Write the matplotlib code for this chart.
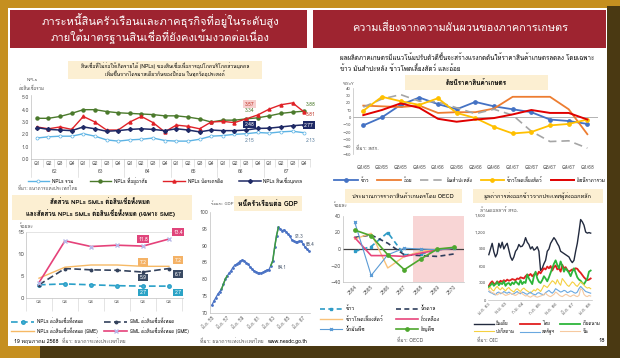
import logging
import warnings
import matplotlib
matplotlib.use("Agg")
import matplotlib.pyplot as plt
import matplotlib.font_manager as fm
from matplotlib.ft2font import FT2Font
from matplotlib.patches import Rectangle
from matplotlib.ticker import FuncFormatter

warnings.filterwarnings("ignore")
logging.getLogger("matplotlib.font_manager").setLevel(logging.ERROR)

# ---------------- data ----------------
# NPLs ratio by purpose (Q1/62 - Q4/67)
quarters = ["Q1", "Q2", "Q3", "Q4"] * 6
years_be = ["62", "63", "64", "65", "66", "67"]
npl_total = [1.7, 1.8, 1.85, 1.85, 2.05, 1.85, 1.55, 1.45, 1.55, 1.6, 1.7, 1.5,
             1.45, 1.45, 1.6, 1.85, 1.9, 2.0, 2.05, 2.15, 2.1, 2.2, 2.25, 2.13]
npl_housing = [3.3, 3.3, 3.45, 3.7, 4.0, 4.0, 3.85, 3.75, 3.7, 3.65, 3.6, 3.5,
               3.5, 3.4, 3.25, 3.0, 3.15, 3.15, 3.25, 3.34, 3.5, 3.7, 3.8, 3.88]
npl_card = [2.6, 2.45, 2.6, 2.4, 3.45, 3.0, 2.35, 2.35, 3.0, 3.45, 2.95, 2.2,
            2.75, 2.65, 2.45, 3.0, 3.05, 2.95, 3.25, 3.57, 4.05, 4.4, 4.55, 3.81]
npl_personal = [2.55, 2.4, 2.35, 2.3, 2.6, 2.45, 2.25, 2.3, 2.4, 2.45, 2.4, 2.3,
                2.45, 2.35, 2.2, 2.35, 2.3, 2.3, 2.35, 2.48, 2.5, 2.6, 2.7, 2.77]

# NPL / SML shares incl. SME
sme_cats = ["Q4", "Q4", "Q4", "Q4", "Q4", "Q4"]
npl_all = [3.0, 3.2, 3.0, 2.8, 2.7, 2.7]
sml_all = [3.0, 6.7, 6.4, 6.3, 5.9, 6.7]
npl_sme = [4.5, 7.0, 7.5, 7.5, 7.2, 7.2]
sml_sme = [3.5, 13.0, 11.7, 12.0, 11.8, 13.4]

# household debt to GDP, quarterly 2555Q1 - 2567Q4
hh_ticks = ["มี.ค. 55", "มี.ค. 57", "มี.ค. 59", "มี.ค. 61", "มี.ค. 63", "มี.ค. 65", "มี.ค. 67"]
hh_debt = [72.3, 73.5, 74.5, 75.5, 76.3, 77.0, 78.5, 80.0, 81.0, 81.8, 82.5, 83.5,
           84.2, 84.5, 85.0, 85.3, 85.8, 85.5, 85.0, 84.5, 83.8, 83.2, 82.6, 82.3,
           82.0, 81.8, 81.9, 82.1, 82.5, 82.8, 82.9, 84.1, 85.5, 89.5, 93.0, 95.5,
           95.0, 94.5, 94.7, 94.2, 93.5, 92.8, 91.8, 91.4, 91.0, 91.2, 91.3, 91.3,
           90.5, 89.6, 88.9, 88.4]

# agricultural price index %YoY
agri_q = ["Q1/65", "Q2/65", "Q3/65", "Q4/65", "Q1/66", "Q2/66", "Q3/66", "Q4/66",
          "Q1/67", "Q2/67", "Q3/67", "Q4/67", "Q1/68"]
rice = [-11, 0, 17, 27, 18, 11, 21, 15, 11, 7, -3, -5, -9]
sugarcane = [16, 15, 14, 16, 6, 7, 7, 12, 28, 28, 28, 11, -23]
cassava = [14, 25, 31, 22, 21, 13, 5, 11, 3, -19, -33, -32, -42]
maize = [9, 28, 22, 17, 26, 6, -1, -13, -22, -20, -11, -9, -3]
overall = [3, 10, 19, 13, -2, -6, -3, -1, 4, 10, 6, 6, -3]

# OECD price projections
oecd_years = [2564, 2565, 2566, 2567, 2568, 2569, 2570]
o_rice = [-3, 3, 20, -7, -6, -1, 1]
o_sugar = [14, 17, 7, -7, -8, -9, -6]
o_maize = [12, 19, -23, -9, -3, 0, 1]
o_soy = [14, -8, -8, -9, -5, -1, 1]
o_oil = [33, -32, -7, 1, 0, -1, 1]
o_cereal = [23, 16, -7, -25, -12, 0, 2]

# rice export value by exporter, monthly ม.ค. 63 - ก.พ. 68 (million USD)
rx_ticks = ["ม.ค. 63", "พ.ย. 63", "ก.ย. 64", "ก.ค. 65", "พ.ค. 66", "มี.ค. 67", "ม.ค. 68"]
ex_india = [800, 900, 1000, 850, 760, 820, 1000, 920, 1020, 900, 960, 1000,
            880, 760, 700, 760, 860, 900, 980, 940, 950, 1000, 1100, 1020,
            980, 900, 940, 880, 900, 940, 860, 520, 560, 640, 700, 860,
            900, 1000, 1050, 1100, 1060, 1000, 950, 860, 840, 820, 800, 780,
            760, 700, 660, 700, 860, 1000, 1200, 1420, 1380, 1320, 1200, 1180,
            1190, 1180]
ex_thai = [250, 300, 330, 290, 280, 330, 300, 340, 320, 350, 330, 360,
           340, 350, 370, 360, 350, 380, 370, 400, 390, 380, 420, 450,
           430, 460, 420, 450, 480, 440, 500, 470, 520, 560, 540, 590,
           560, 600, 520, 580, 610, 540, 560, 500, 620, 560, 580, 530,
           500, 520, 540, 530, 560, 550, 510, 480, 440, 400, 370, 350,
           360, 380]
ex_viet = [230, 260, 300, 250, 280, 320, 260, 300, 280, 330, 250, 290,
           300, 260, 310, 280, 330, 300, 270, 350, 280, 320, 300, 450,
           380, 330, 280, 420, 500, 380, 320, 300, 350, 420, 380, 330,
           400, 480, 560, 640, 700, 620, 560, 680, 600, 500, 560, 520,
           480, 420, 500, 560, 480, 400, 360, 340, 300, 280, 330, 380,
           500, 520]
ex_pak = [200, 220, 180, 160, 210, 240, 200, 180, 220, 190, 160, 200,
          220, 180, 160, 140, 180, 200, 170, 150, 190, 210, 180, 160,
          140, 120, 150, 180, 160, 200, 180, 150, 200, 260, 240, 220,
          260, 300, 340, 320, 280, 360, 300, 260, 380, 340, 300, 260,
          240, 280, 320, 300, 260, 240, 280, 320, 300, 260, 230, 210,
          220, 200]
ex_us = [150, 130, 120, 100, 90, 130, 140, 110, 120, 150, 130, 120,
         140, 120, 100, 110, 130, 150, 120, 110, 140, 130, 110, 100,
         120, 140, 110, 100, 90, 120, 130, 110, 100, 90, 130, 150,
         170, 140, 120, 150, 200, 180, 160, 140, 150, 170, 160, 130,
         140, 160, 150, 130, 120, 140, 200, 240, 210, 180, 150, 140,
         130, 120]
ex_china = [180, 150, 130, 120, 100, 90, 110, 130, 120, 100, 80, 90,
            100, 120, 110, 90, 80, 100, 120, 140, 110, 90, 70, 80,
            60, 50, 70, 80, 60, 50, 60, 70, 80, 100, 120, 90,
            70, 60, 80, 100, 140, 120, 90, 70, 60, 80, 100, 90,
            70, 60, 80, 90, 70, 60, 80, 200, 180, 100, 70, 60,
            80, 70]

# ---------------- fonts ----------------
thai_font = None
for f in fm.fontManager.ttflist:
    try:
        if 0x0E01 in FT2Font(f.fname).get_charmap():
            thai_font = f.name
            break
    except Exception:
        pass
plt.rcParams["font.family"] = ([thai_font] if thai_font else []) + ["DejaVu Sans"]
plt.rcParams["axes.linewidth"] = 0.5

W, H = 620, 358
fig = plt.figure(figsize=(6.2, 3.58), dpi=100)

bg = fig.add_axes([0, 0, 1, 1])
bg.set_xlim(0, W)
bg.set_ylim(H, 0)
bg.axis("off")


def px_axes(x0, y0, x1, y1):
    a = fig.add_axes([x0 / W, 1 - y1 / H, (x1 - x0) / W, (y1 - y0) / H])
    a.set_facecolor("none")
    return a


def rect(x0, y0, x1, y1, color, **kw):
    bg.add_patch(Rectangle((x0, y0), x1 - x0, y1 - y0, color=color, lw=0, **kw))


YEL = "#fcefd2"
SRC = "#555555"

# frame + slide
rect(0, 0, W, H, "#c58f20")
rect(607, 6, W, H, "#4a3912")
rect(40, 346, W, H, "#4a3912")
rect(8, 8, 607, 346, "white")
rect(10, 10, 307, 48, "#9e2430")
rect(313, 10, 606, 48, "#9e2430")
bg.text(160, 21, "ภาระหนี้สินครัวเรือนและภาคธุรกิจที่อยู่ในระดับสูง", color="white",
        fontsize=8, ha="center", va="center")
bg.text(160, 37, "ภายใต้มาตรฐานสินเชื่อที่ยังคงเข้มงวดต่อเนื่อง", color="white",
        fontsize=8, ha="center", va="center")
bg.text(460, 28, "ความเสี่ยงจากความผันผวนของภาคการเกษตร", color="white",
        fontsize=7.8, ha="center", va="center")

# yellow title boxes
rect(68, 61, 262, 79, YEL)
bg.text(165, 65.5, "สินเชื่อที่ไม่ก่อให้เกิดรายได้ (NPLs) ของสินเชื่อเพื่อการอุปโภคบริโภคส่วนบุคคล",
        fontsize=3.6, ha="center", va="center")
bg.text(165, 74, "เพิ่มขึ้นจากไตรมาสเดียวกันของปีก่อน ในทุกวัตถุประสงค์",
        fontsize=3.6, ha="center", va="center")
rect(12, 195, 192, 220, YEL)
bg.text(100, 201.5, "สัดส่วน NPLs SMLs ต่อสินเชื่อทั้งหมด", fontsize=4.4,
        ha="center", va="center", weight="bold")
bg.text(100, 213, "และสัดส่วน NPLs SMLs ต่อสินเชื่อทั้งหมด (เฉพาะ SME)", fontsize=4.4,
        ha="center", va="center", weight="bold")
rect(234, 196, 302, 211, YEL)
bg.text(268, 203.5, "หนี้ครัวเรือนต่อ GDP", fontsize=4.8, ha="center", va="center", weight="bold")
rect(405, 75, 548, 90, YEL)
bg.text(476, 82.5, "ดัชนีราคาสินค้าเกษตร", fontsize=4.6, ha="center", va="center", weight="bold")
rect(345, 189, 462, 203, YEL)
bg.text(403, 196, "ประมาณการราคาสินค้าเกษตรโดย OECD", fontsize=4, ha="center", va="center")
rect(473, 189, 603, 203, YEL)
bg.text(538, 196, "มูลค่าการส่งออกข้าวจากประเทศผู้ส่งออกหลัก", fontsize=4, ha="center", va="center")

bg.text(340, 57, "ผลผลิตภาคเกษตรมีแนวโน้มปรับตัวดีขึ้นจะสร้างแรงกดดันให้ราคาสินค้าเกษตรลดลง โดยเฉพาะ",
        fontsize=4.5, va="center")
bg.text(340, 68, "ข้าว มันสำปะหลัง ข้าวโพดเลี้ยงสัตว์ และอ้อย", fontsize=4.5, va="center")

# small axis captions and sources
bg.text(32, 80, "NPLs", fontsize=3.2, ha="center", va="center", color=SRC)
bg.text(32, 88, "ต่อสินเชื่อรวม", fontsize=3.2, ha="center", va="center", color=SRC)
bg.text(18, 188, "ที่มา: ธนาคารแห่งประเทศไทย", fontsize=3.3, va="center", color=SRC)
bg.text(20, 226, "ร้อยละ", fontsize=3.5, va="center", color=SRC)
bg.text(211, 204, "ร้อยละ GDP", fontsize=3, va="center", color=SRC)
bg.text(343, 84, "%YoY", fontsize=3, va="center", color=SRC)
bg.text(356, 148, "ที่มา: สศก.", fontsize=3.5, va="center", color=SRC)
bg.text(334, 205, "ร้อยละ", fontsize=3.5, va="center", color=SRC)
bg.text(480, 210, "ล้านดอลลาร์ สรอ.", fontsize=3.5, va="center", color=SRC)
bg.text(397, 340, "ที่มา: OECD", fontsize=3.5, va="center", color=SRC)
bg.text(477, 340, "ที่มา: OIC", fontsize=3.5, va="center", color=SRC)
bg.text(14, 341, "19 พฤษภาคม 2568", fontsize=3.8, va="center")
bg.text(62, 341, "ที่มา: ธนาคารแห่งประเทศไทย", fontsize=3.5, va="center", color=SRC)
bg.text(200, 341, "ที่มา: ธนาคารแห่งประเทศไทย", fontsize=3.5, va="center", color=SRC)
bg.text(268, 341, "www.nesdc.go.th", fontsize=3.8, va="center")
bg.text(598, 341, "18", fontsize=4.2, va="center")


def style(a, left=True, bottom=True):
    for s in ["top", "right"]:
        a.spines[s].set_visible(False)
    a.spines["left"].set_visible(left)
    a.spines["bottom"].set_visible(bottom)
    a.spines["left"].set_color("#bfbfbf")
    a.spines["bottom"].set_color("#bfbfbf")
    a.tick_params(length=0, labelsize=3.8, colors="#595959", pad=1.5)


def boxlabel(a, x, y, s, fc, tc="white", fs=3.6):
    a.text(x, y, s, fontsize=fs, color=tc, ha="center", va="center", clip_on=False,
           bbox=dict(boxstyle="square,pad=0.25", fc=fc, ec="none"))


# ---------------- chart 1: NPLs ----------------
ax1 = px_axes(31, 95, 310, 159)
x1 = list(range(len(quarters)))
ax1.plot(x1, npl_total, color="#5cb3e4", lw=1.0, marker="o", ms=2.2, mfc="white", mew=0.5,
         label="NPLs รวม")
ax1.plot(x1, npl_housing, color="#4b7a2c", lw=1.0, marker="o", ms=2.2, label="NPLs ที่อยู่อาศัย")
ax1.plot(x1, npl_card, color="#e02228", lw=1.0, marker="^", ms=2.2, label="NPLs บัตรเครดิต")
ax1.plot(x1, npl_personal, color="#1f2a66", lw=1.1, marker="D", ms=2.0, label="NPLs สินเชื่อบุคคล")
ax1.set_xlim(-0.5, 23.14)
ax1.set_ylim(0, 5.19)
style(ax1)
ax1.set_yticks([0, 1, 2, 3, 4, 5])
ax1.set_yticklabels(["0.0", "1.0", "2.0", "3.0", "4.0", "5.0"])
ax1.set_xticks(x1)
ax1.set_xticklabels(quarters, fontsize=3.4)
ax1.set_xticks([i + 0.5 for i in range(-1, 24)], minor=True)
ax1.tick_params(axis="x", which="minor", length=6, color="#d0d0d0", width=0.4)
for k, yr in enumerate(years_be):
    ax1.text(4 * k + 1.5, -1.05, yr, fontsize=3.6, ha="center", va="center", color="#595959")
    ax1.plot([4 * k - 0.5] * 2, [0, -1.45], color="#d0d0d0", lw=0.4, clip_on=False)
ax1.text(18.3, 4.46, "3.57", fontsize=3.6, color="#c0392b", ha="center", va="center",
         bbox=dict(boxstyle="square,pad=0.25", fc="#f7cfcf", ec="none"))
ax1.text(18.3, 3.97, "3.34", fontsize=3.6, color="#4b7a2c", ha="center", va="center")
boxlabel(ax1, 18.3, 2.78, "2.48", "#1f2a66")
ax1.text(18.3, 1.52, "2.15", fontsize=3.6, color="#5a7f9e", ha="center", va="center")
ax1.text(23.6, 4.4, "3.88", fontsize=3.6, color="#4b7a2c", ha="center", va="center", clip_on=False)
ax1.text(23.6, 3.57, "3.81", fontsize=3.6, color="#c0392b", ha="center", va="center", clip_on=False)
boxlabel(ax1, 23.4, 2.75, "2.77", "#1f2a66")
ax1.text(23.6, 1.52, "2.13", fontsize=3.6, color="#5a7f9e", ha="center", va="center", clip_on=False)
ax1.legend(ncol=4, loc="center", bbox_to_anchor=(165, 181), bbox_transform=bg.transData,
           frameon=False, fontsize=3.4, handlelength=4.5, columnspacing=3.5, handletextpad=0.6)

# ---------------- chart 2: NPL / SML ----------------
ax2 = px_axes(26, 232, 183, 298)
x2 = list(range(len(sme_cats)))
h_na, = ax2.plot(x2, npl_all, color="#2aa0c8", lw=1.2, ls=(0, (4, 2)), marker="o", ms=2.5,
                 mfc="#4ab0d3", label="NPLs ต่อสินเชื่อทั้งหมด")
h_sa, = ax2.plot(x2, sml_all, color="#34425c", lw=1.2, ls=(0, (4, 2)), marker="o", ms=1.8,
                 label="SML ต่อสินเชื่อทั้งหมด")
h_ns, = ax2.plot(x2, npl_sme, color="#f6b965", lw=1.0, label="NPLs ต่อสินเชื่อทั้งหมด (SME)")
h_ss, = ax2.plot(x2, sml_sme, color="#e5427a", lw=1.2, marker="x", ms=2.5, mec="#b8b8e8",
                 label="SML ต่อสินเชื่อทั้งหมด (SME)")
ax2.set_xlim(-0.5, 5.54)
ax2.set_ylim(0, 15)
style(ax2)
ax2.spines["top"].set_visible(True)
ax2.spines["top"].set_color("#d9d9d9")
ax2.set_yticks([0, 5, 10, 15])
ax2.tick_params(axis="y", labelsize=4.5)
ax2.set_xticks(x2)
ax2.set_xticklabels(sme_cats, fontsize=3)
ax2.set_xticks([i + 0.5 for i in range(-1, 6)], minor=True)
ax2.tick_params(axis="x", which="minor", length=9, color="#d0d0d0", width=0.4)
boxlabel(ax2, 4, 13.4, "11.8", "#e0457b")
boxlabel(ax2, 5.35, 15.0, "13.4", "#e0457b")
boxlabel(ax2, 4, 8.15, "7.2", "#f4b266")
boxlabel(ax2, 5.35, 8.6, "7.2", "#f4b266")
boxlabel(ax2, 4, 4.7, "5.9", "#3a4a63")
boxlabel(ax2, 5.35, 5.4, "6.7", "#3a4a63")
boxlabel(ax2, 4, 1.3, "2.7", "#2ba3c6")
boxlabel(ax2, 5.35, 1.3, "2.7", "#2ba3c6")
ax2.legend(handles=[h_na, h_ns, h_sa, h_ss], ncol=2, loc="center", bbox_to_anchor=(100, 326),
           bbox_transform=bg.transData, frameon=False, fontsize=3.3, handlelength=5,
           columnspacing=1.5, handletextpad=0.6, labelspacing=0.6)

# ---------------- chart 3: household debt ----------------
ax3 = px_axes(210, 212, 310, 313)
x3 = list(range(len(hh_debt)))
ax3.plot(x3, hh_debt, color="#4a72c4", lw=0.9, marker="o", ms=1.0)
ax3.plot(x3[5:9], hh_debt[5:9], color="#3e9b3e", lw=1.1)
ax3.plot(x3[31:36], hh_debt[31:36], color="#3e9b3e", lw=1.1)
ax3.set_xlim(-1, 51.6)
ax3.set_ylim(70, 100)
style(ax3)
ax3.set_yticks([70, 75, 80, 85, 90, 95, 100])
ax3.set_xticks([0, 8, 16, 24, 32, 40, 48])
ax3.set_xticklabels(hh_ticks, rotation=45, ha="right", fontsize=3.3, rotation_mode="anchor")
ax3.text(34.5, 83.6, "84.1", fontsize=3.3, color="#44546a", va="center")
ax3.text(46, 92.8, "91.3", fontsize=3.3, color="#44546a", ha="center", va="center")
ax3.text(52, 90.2, "88.4", fontsize=3.3, color="#44546a", ha="center", va="center", clip_on=False)

# ---------------- chart 4: agricultural price index ----------------
ax4 = px_axes(353, 88, 598, 154)
x4 = list(range(len(agri_q)))
ax4.axhline(0, color="#a6a6a6", lw=0.6)
ax4.plot(x4, rice, color="#4472c4", lw=1.3, marker="o", ms=2.4, label="ข้าว")
ax4.plot(x4, sugarcane, color="#ed7d31", lw=1.3, label="อ้อย")
ax4.plot(x4, cassava, color="#a5a5a5", lw=1.2, ls=(0, (5, 3)), label="มันสำปะหลัง")
ax4.plot(x4, maize, color="#ffc000", lw=1.3, marker="o", ms=2.4, label="ข้าวโพดเลี้ยงสัตว์")
ax4.plot(x4, overall, color="#e00000", lw=1.4, label="ดัชนีราคารวม")
ax4.set_xlim(-0.55, 12.57)
ax4.set_ylim(-50, 40)
style(ax4, bottom=False)
ax4.set_yticks(range(-50, 41, 10))
ax4.tick_params(axis="y", labelsize=3.2)
ax4.set_xticks(x4)
ax4.set_xticklabels(agri_q, fontsize=3.6)
ax4.tick_params(axis="x", pad=8)
ax4.legend(ncol=5, loc="center", bbox_to_anchor=(470, 180), bbox_transform=bg.transData,
           frameon=False, fontsize=3.4, handlelength=5, columnspacing=1.8, handletextpad=0.5)

# ---------------- chart 5: OECD projections ----------------
ax5 = px_axes(343, 216, 464, 282)
ax5.axvspan(2567.5, 2570.6, color="#f8d5d5", lw=0)
ax5.axhline(0, color="#404040", lw=0.9)
h_r, = ax5.plot(oecd_years, o_rice, color="#2e9bc6", lw=1.2, ls=(0, (3, 2)), marker="s", ms=2,
                label="ข้าว")
h_s, = ax5.plot(oecd_years, o_sugar, color="#2f3e5c", lw=1.2, ls=(0, (3, 2)), label="น้ำตาล")
h_m, = ax5.plot(oecd_years, o_maize, color="#f9c27a", lw=1.0, label="ข้าวโพดเลี้ยงสัตว์")
h_so, = ax5.plot(oecd_years, o_soy, color="#e8457c", lw=1.2, label="ถั่วเหลือง")
h_o, = ax5.plot(oecd_years, o_oil, color="#5b9bd5", lw=0.8, marker="x", ms=2, label="น้ำมันพืช")
h_c, = ax5.plot(oecd_years, o_cereal, color="#4ea72e", lw=1.2, marker="o", ms=2.4,
                label="ธัญพืช")
ax5.set_xlim(2563.3, 2570.6)
ax5.set_ylim(-40, 40)
style(ax5)
ax5.set_yticks([-40, -20, 0, 20, 40])
ax5.set_xticks(oecd_years)
ax5.set_xticklabels([str(y) for y in oecd_years], rotation=45, ha="right",
                    rotation_mode="anchor", fontsize=3.6)
ax5.legend(handles=[h_r, h_m, h_o, h_s, h_so, h_c], ncol=2, loc="center",
           bbox_to_anchor=(380, 319), bbox_transform=bg.transData, frameon=False,
           fontsize=3.6, handlelength=4.5, columnspacing=2.5, handletextpad=0.6, labelspacing=0.9)

# ---------------- chart 6: rice exports ----------------
ax6 = px_axes(488, 215, 592, 300)
x6 = list(range(len(ex_india)))
h_in, = ax6.plot(x6, ex_india, color="#222a3e", lw=1.0, label="อินเดีย")
h_th, = ax6.plot(x6, ex_thai, color="#e01f1f", lw=1.3, label="ไทย")
h_vn, = ax6.plot(x6, ex_viet, color="#2db53a", lw=1.3, label="เวียดนาม")
h_pk, = ax6.plot(x6, ex_pak, color="#f5d040", lw=0.8, label="ปากีสถาน")
h_us, = ax6.plot(x6, ex_us, color="#6aa8e0", lw=0.8, label="สหรัฐฯ")
h_cn, = ax6.plot(x6, ex_china, color="#f6c9a0", lw=0.8, label="จีน")
ax6.set_xlim(-0.5, 61.8)
ax6.set_ylim(0, 1500)
style(ax6, left=False)
ax6.set_yticks(range(0, 1501, 300))
ax6.yaxis.set_major_formatter(FuncFormatter(lambda v, p: f"{int(v):,}"))
ax6.tick_params(axis="y", labelsize=3.2)
ax6.set_xticks(range(0, 61, 10))
ax6.set_xticklabels(rx_ticks, rotation=45, ha="right", rotation_mode="anchor", fontsize=3.2)
ax6.legend(handles=[h_in, h_pk, h_th, h_us, h_vn, h_cn], ncol=3, loc="center",
           bbox_to_anchor=(537, 328), bbox_transform=bg.transData, frameon=False,
           fontsize=3.2, handlelength=4.5, columnspacing=1.2, handletextpad=0.5, labelspacing=0.6)

fig.savefig("out.png", dpi=100)
